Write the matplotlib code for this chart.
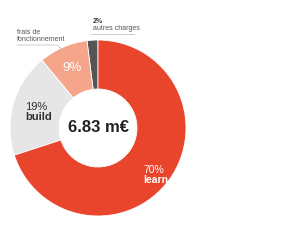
import matplotlib.pyplot as plt

labels = ['autres charges', 'frais de fonctionnement', 'build', 'learn']
shares = [2, 9, 19, 70]
colors = ['#555555', '#F4A58A', '#E6E6E6', '#E8452C']
total = '6.83 m€'

plt.rcParams['font.family'] = ['Liberation Sans', 'DejaVu Sans']

fig = plt.figure(figsize=(3, 2.5), dpi=100)
ax = fig.add_axes([0, 0, 1, 1])

cx, cy, r = 98, 122, 88
ax.pie(shares, colors=colors, startangle=90, counterclock=True,
       center=(cx, cy), radius=r, frame=True,
       wedgeprops=dict(width=49, edgecolor='white', linewidth=0.6))
ax.set_xlim(0, 300)
ax.set_ylim(0, 250)
ax.set_aspect('equal')
ax.axis('off')

ax.text(cx, cy + 1, total, ha='center', va='center', fontsize=12,
        fontweight='bold', color='#222222')

# slice labels
ax.text(72, 182, f'{shares[1]}%', ha='center', va='center', fontsize=9.5,
        color='white')
ax.text(25, 143.5, f'{shares[2]}%', ha='left', va='center', fontsize=8,
        color='#333333')
ax.text(25, 133, labels[2], ha='left', va='center', fontsize=8,
        fontweight='bold', color='#333333')
ax.text(143, 80, f'{shares[3]}%', ha='left', va='center', fontsize=7.5,
        color='white')
ax.text(143, 70, labels[3], ha='left', va='center', fontsize=7.5,
        fontweight='bold', color='white')

# callouts
ax.text(17, 207, 'frais de\nfonctionnement', ha='left', va='bottom',
        fontsize=5, color='#555555', linespacing=1.0)
ax.plot([17, 57, 64], [205, 205, 199], color='#c4c4c4', lw=0.6)
ax.text(93, 225, f'{shares[0]}%', ha='left', va='bottom', fontsize=5,
        fontweight='bold', color='#333333')
ax.text(93, 217.5, labels[0], ha='left', va='bottom', fontsize=5,
        color='#555555')
ax.plot([91, 134], [216, 216], color='#c4c4c4', lw=0.6)

fig.savefig('out.png', dpi=100)
